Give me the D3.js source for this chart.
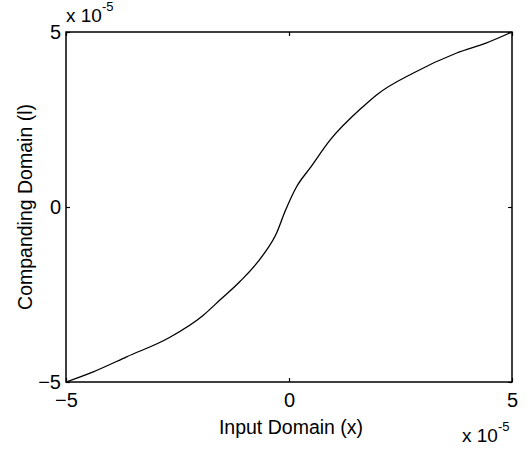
<!doctype html>
<html lang="en">
  <head>
    <meta charset="utf-8">
    <title>Companding curve</title>
    <script src="https://d3js.org/d3.v7.min.js"></script>
    <style>
      body { margin: 0; background: #fff; }
      text { font-family: "Liberation Sans", Arial, sans-serif; fill: #000; }
    </style>
  </head>
  <body>
    <div class='visholder'></div>
    <script>
      // values in units of 1e-5
      const inputX = [-5, -4.39, -3.64, -2.67, -1.92, -1.55, -1.10, -0.58, -0.28, -0.09,
                      0.17, 0.47, 0.92, 1.67, 1.97, 2.79, 3.76, 4.43, 5];
      const compY  = [-5, -4.71, -4.28, -3.72, -3.09, -2.66, -2.13, -1.37, -0.75, -0.13,
                      0.58, 1.11, 1.91, 2.88, 3.21, 3.83, 4.40, 4.69, 5];
      const xTicks = [-5, 0, 5];
      const yTicks = [-5, 0, 5];

      const w = 527;
      const h = 450;
      const padL = 66, padR = 512, padT = 32, padB = 382;
      const tickLen = 4;

      const svg = d3.select('.visholder')
        .append('svg')
        .attr('width', w)
        .attr('height', h)

      const xScale = d3.scaleLinear().domain([-5, 5]).range([padL, padR])
      const yScale = d3.scaleLinear().domain([-5, 5]).range([padB, padT])

      // frame
      svg.append('rect')
        .attr('x', padL)
        .attr('y', padT)
        .attr('width', padR - padL)
        .attr('height', padB - padT)
        .attr('fill', 'none')
        .attr('stroke', '#000')
        .attr('stroke-width', 1.5)

      // axes with inward ticks
      const xAxis = d3.axisBottom(xScale).tickValues(xTicks).tickSize(-tickLen).tickPadding(11).tickFormat(d3.format('d'))
      const yAxis = d3.axisLeft(yScale).tickValues(yTicks).tickSize(-tickLen).tickPadding(5).tickFormat(d3.format('d'))
      const xTop = d3.axisTop(xScale).tickValues(xTicks).tickSize(-tickLen).tickFormat('')
      const yRight = d3.axisRight(yScale).tickValues(yTicks).tickSize(-tickLen).tickFormat('')

      const styleAxis = (g) => {
        g.select('.domain').remove()
        g.selectAll('line').attr('stroke', '#000').attr('stroke-width', 1.2)
        g.selectAll('text').style('font-size', '20px').attr('fill', '#000')
      }

      svg.append('g').attr('transform', 'translate(0,' + padB + ')').call(xAxis).call(styleAxis)
      svg.append('g').attr('transform', 'translate(' + padL + ',0)').call(yAxis).call(styleAxis)
      svg.append('g').attr('transform', 'translate(0,' + padT + ')').call(xTop).call(styleAxis)
      svg.append('g').attr('transform', 'translate(' + padR + ',0)').call(yRight).call(styleAxis)

      // curve
      const points = inputX.map((x, i) => [x, compY[i]])
      const line = d3.line()
        .x(d => xScale(d[0]))
        .y(d => yScale(d[1]))
        .curve(d3.curveMonotoneX)

      svg.append('path')
        .datum(points)
        .attr('d', line)
        .attr('fill', 'none')
        .attr('stroke', '#000')
        .attr('stroke-width', 1.3)

      // axis labels
      svg.append('text')
        .attr('x', 291)
        .attr('y', 434)
        .attr('text-anchor', 'middle')
        .style('font-size', '19.5px')
        .text('Input Domain (x)')

      svg.append('text')
        .attr('transform', 'translate(32,' + 207 + ') rotate(-90)')
        .attr('text-anchor', 'middle')
        .style('font-size', '19.5px')
        .text('Companding Domain (l)')

      // exponent labels
      const expo = (x, y) => {
        const t = svg.append('text')
          .attr('x', x)
          .attr('y', y)
          .style('font-size', '19px')
        t.append('tspan').text('x 10')
        t.append('tspan').attr('dy', -11).style('font-size', '13px').text('-5')
      }
      expo(66, 22)
      expo(462, 442)
    </script>
  </body>
</html>
